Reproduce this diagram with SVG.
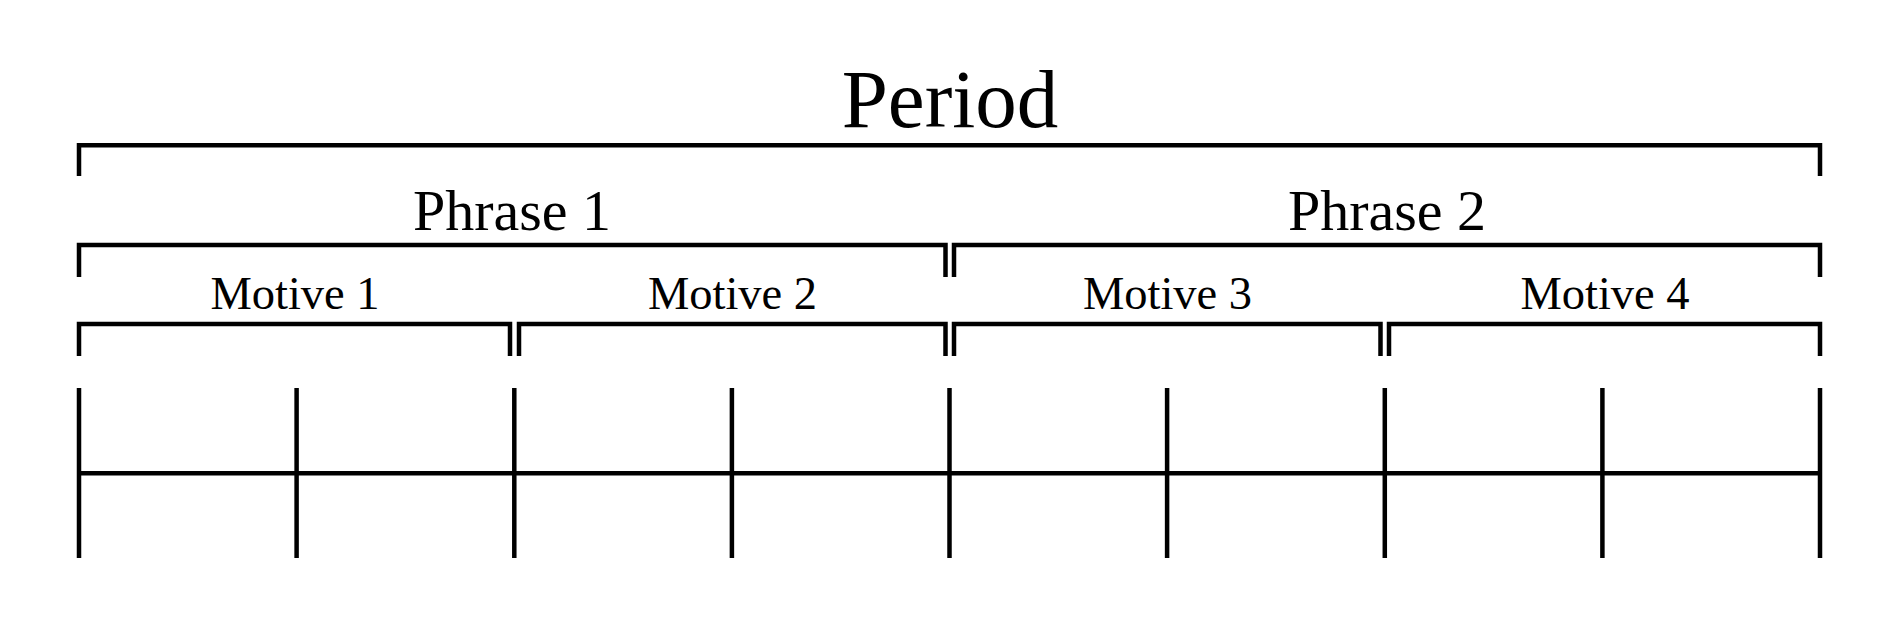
<svg xmlns="http://www.w3.org/2000/svg" width="1900" height="622" viewBox="0 0 1900 622">
<style>
.br{fill:none;stroke:#000;stroke-width:4.5;stroke-linejoin:miter;stroke-linecap:butt}
.t{font-family:"Liberation Serif","Times New Roman",serif;fill:#000;text-anchor:middle}
.p{font-size:83px}.ph{font-size:58px}.m{font-size:46.5px}
</style>
<rect width="1900" height="622" fill="#fff"/>
<g id="period">
<path class="br" d="M79,176 V145.3 H1820 V176"/>
<text class="t p" x="950" y="127">Period</text>
</g>
<g id="phrase1">
<path class="br" d="M79,277 V245 H945.5 V277"/>
<text class="t ph" x="512" y="230">Phrase 1</text>
</g>
<g id="phrase2">
<path class="br" d="M954,277 V245 H1820 V277"/>
<text class="t ph" x="1387" y="230">Phrase 2</text>
</g>
<g id="motive1">
<path class="br" d="M79,356 V324 H510 V356"/>
<text class="t m" x="295" y="309">Motive 1</text>
</g>
<g id="motive2">
<path class="br" d="M519,356 V324 H945.5 V356"/>
<text class="t m" x="732.5" y="309">Motive 2</text>
</g>
<g id="motive3">
<path class="br" d="M954,356 V324 H1380.5 V356"/>
<text class="t m" x="1167.5" y="309">Motive 3</text>
</g>
<g id="motive4">
<path class="br" d="M1389,356 V324 H1820 V356"/>
<text class="t m" x="1605" y="309">Motive 4</text>
</g>
<g id="timeline" class="br">
<line x1="79" y1="473.3" x2="1820" y2="473.3"/>
<line x1="79" y1="388" x2="79" y2="558"/>
<line x1="296.6" y1="388" x2="296.6" y2="558"/>
<line x1="514.3" y1="388" x2="514.3" y2="558"/>
<line x1="731.9" y1="388" x2="731.9" y2="558"/>
<line x1="949.5" y1="388" x2="949.5" y2="558"/>
<line x1="1167.1" y1="388" x2="1167.1" y2="558"/>
<line x1="1384.8" y1="388" x2="1384.8" y2="558"/>
<line x1="1602.4" y1="388" x2="1602.4" y2="558"/>
<line x1="1820" y1="388" x2="1820" y2="558"/>
</g>
</svg>
